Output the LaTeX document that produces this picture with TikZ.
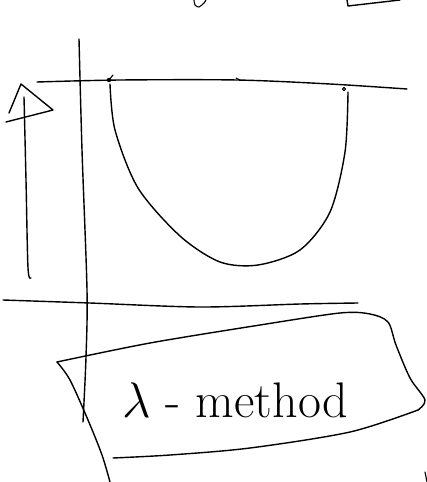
\RequirePackage{fix-cm}
\documentclass[tikz,border=0pt]{standalone}
\usepackage{tikz}
\usetikzlibrary{positioning}

\begin{document}
\begin{tikzpicture}[
  x=1pt, y=-1pt,
  stroke/.style={line width=1.4pt, line cap=round, line join=round},
  thinstroke/.style={line width=1.1pt, line cap=round, line join=round},
]
\useasboundingbox (0,0) rectangle (427,482);

% --- bits cut off at the top ---
\draw[thinstroke] plot[smooth] coordinates {(194,0) (195,5) (199,7) (204,3) (206,0)};
\draw[stroke] (347,0) -- (348,6) -- (400,0);

% --- axes ---
\draw[stroke] plot[smooth] coordinates {(79,39) (82,150) (87,290) (86,357) (83,422)};
\draw[stroke] plot[smooth] coordinates {(37,82) (120,80) (237,80) (330,84) (407,89)};
\draw[thinstroke] (236,78) -- (240,80);
\draw[stroke] plot[smooth] coordinates {(3,300) (90,303) (200,307) (300,304) (358,303)};

% --- the bowl ---
\fill (109,80) circle (2.2);
\draw[thinstroke] (109,80) -- (113,75);
\draw[stroke] plot[smooth] coordinates {(110,84) (115,130) (138,188) (180,236) (220,262)
  (258,265) (300,250) (330,212) (345,152) (348,92)};
\draw[thinstroke] (344,89) circle (1.6);

% --- arrow on the left ---
\draw[stroke] plot[smooth] coordinates {(24,97) (26,180) (28,268) (31,278)};
\draw[stroke] (9,113) -- (21,84) -- (53,110) -- (6,122);

% --- label card ---
\draw[stroke] plot[smooth] coordinates {(57,362) (150,343) (260,325) (340,313) (370,314)
  (388,322) (396,345) (410,378) (425,400) (418,410)};
\draw[stroke] plot[smooth] coordinates {(418,410) (350,432) (250,448) (170,455) (113,458)};
\draw[stroke] plot[smooth] coordinates {(57,362) (70,380) (88,420) (102,455) (110,482)};
\draw[thinstroke] (425,472) -- (427,482);

\node[font=\fontsize{50}{54}\selectfont, inner sep=0pt] (label) at (235,400) {$\lambda$ - method};

\end{tikzpicture}
\end{document}
